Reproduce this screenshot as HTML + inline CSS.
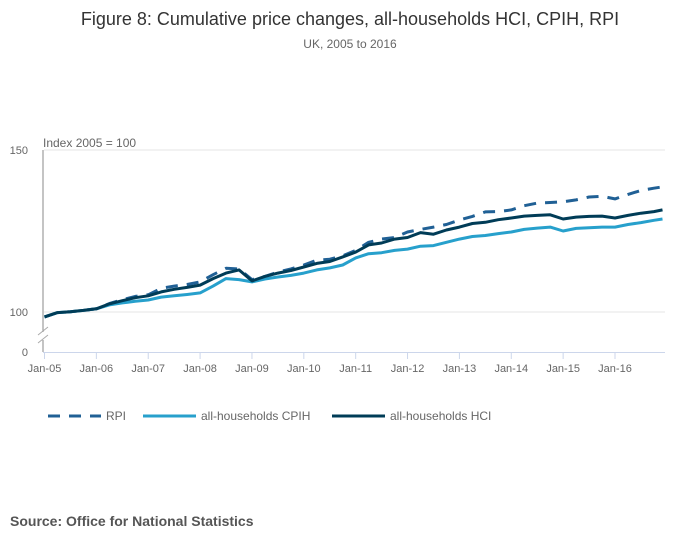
<!DOCTYPE html>
<html><head><meta charset="utf-8"><style>
body{margin:0;background:#fff;font-family:"Liberation Sans",sans-serif;}
svg text{font-family:"Liberation Sans",sans-serif;}
</style></head><body>
<svg id="chart" width="700" height="549" viewBox="0 0 700 549" xmlns="http://www.w3.org/2000/svg">
<text x="350" y="25" text-anchor="middle" font-size="18" fill="#333">Figure 8: Cumulative price changes, all-households HCI, CPIH, RPI</text>
<text x="350" y="48" text-anchor="middle" font-size="12" fill="#666">UK, 2005 to 2016</text>
<text x="43" y="147" font-size="12" fill="#666">Index 2005 = 100</text>
<g id="grid"></g>
<g id="axes"></g>
<g id="series"></g>
<g>
<line x1="48" y1="416" x2="101" y2="416" stroke="#206095" stroke-width="3" stroke-dasharray="12,9"/>
<text x="106" y="420" font-size="12" fill="#666">RPI</text>
<line x1="143" y1="416" x2="196" y2="416" stroke="#27a0cc" stroke-width="3"/>
<text x="201" y="420" font-size="12" fill="#666">all-households CPIH</text>
<line x1="332" y1="416" x2="385" y2="416" stroke="#003c57" stroke-width="3"/>
<text x="390" y="420" font-size="12" fill="#666">all-households HCI</text>
</g>
<text x="10" y="526" font-size="14" font-weight="bold" fill="#555">Source: Office for National Statistics</text>
</svg>
<script>
const monthIdx = [0,3,6,9,12,15,18,21,24,27,30,33,36,39,42,45,48,51,54,57,60,63,66,69,72,75,78,81,84,87,90,93,96,99,102,105,108,111,114,117,120,123,126,129,132,135,138,141,143];
const hciValues = [98.5,99.8,100.1,100.5,101.0,102.5,103.5,104.4,105.0,106.2,107.0,107.6,108.3,110.3,112.0,113.0,109.6,111.0,112.0,112.8,113.9,115.0,115.6,117.0,118.5,120.7,121.3,122.5,123.0,124.5,124.0,125.3,126.2,127.3,127.7,128.5,129.0,129.6,129.8,130.0,128.7,129.3,129.5,129.6,129.0,129.8,130.5,131.0,131.5];
const cpihValues = [98.5,99.8,100.1,100.5,101.0,102.2,102.8,103.3,103.7,104.6,105.0,105.4,105.9,108.0,110.3,110.0,109.3,110.2,110.8,111.3,112.0,113.0,113.6,114.5,116.7,118.0,118.3,119.0,119.4,120.3,120.5,121.5,122.5,123.3,123.6,124.2,124.7,125.5,125.9,126.2,125.0,125.8,126.0,126.2,126.2,127.0,127.6,128.3,128.7];
const rpiValues = [98.5,99.8,100.1,100.5,101.0,102.6,103.8,104.8,105.3,107.3,108.0,108.5,109.3,111.5,113.5,113.3,110.0,111.0,112.3,113.3,114.5,116.0,116.3,117.3,119.0,121.5,122.5,123.0,124.7,125.5,126.2,127.0,128.4,129.5,130.9,131.0,131.5,132.8,133.6,133.8,134.0,134.6,135.5,135.7,134.9,136.3,137.5,138.2,138.6];
const xTickLabels = ["Jan-05","Jan-06","Jan-07","Jan-08","Jan-09","Jan-10","Jan-11","Jan-12","Jan-13","Jan-14","Jan-15","Jan-16"];
const yTickValues = [100,150];

const NS="http://www.w3.org/2000/svg";
function X(m){return 44.5 + m*(570.5/132);}
function Y(v){return 312 - (v-100)*3.24;}
function mk(tag,attrs,parent){const e=document.createElementNS(NS,tag);for(const k in attrs)e.setAttribute(k,attrs[k]);parent.appendChild(e);return e;}
const grid=document.getElementById('grid'),axes=document.getElementById('axes'),series=document.getElementById('series');
yTickValues.forEach(v=>{
  const l=mk('line',{x1:44,x2:665,y1:Y(v),y2:Y(v),stroke:'#e6e6e6','stroke-width':1},grid);
  
  
  const t=mk('text',{x:28,y:Y(v)+4,'font-size':11,fill:'#666','text-anchor':'end'},axes);
  t.textContent=v;
  
  
});
const z=mk('text',{x:28,y:356,'font-size':11,fill:'#666','text-anchor':'end'},axes);
z.textContent='0';


const ya=mk('path',{d:'M43 150 V332 M43 340 V352',stroke:'#888','stroke-width':1,fill:'none'},axes);


const br=mk('path',{d:'M38 335 L48 327 M38 343 L48 335',stroke:'#aaa','stroke-width':1,fill:'none'},axes);


const xa=mk('line',{x1:43,x2:665,y1:352.5,y2:352.5,stroke:'#ccd6eb','stroke-width':1},axes);


xTickLabels.forEach((lab,i)=>{
  const x=X(i*12);
  const tk=mk('line',{x1:x,x2:x,y1:352,y2:359,stroke:'#ccd6eb','stroke-width':1},axes);
  
  
  const t=mk('text',{x:x,y:372,'font-size':11,fill:'#666','text-anchor':'middle'},axes);
  t.textContent=lab;
  
  
});
function drawLine(vals,color,dash,name){
  const d=vals.map((v,i)=>(i?'L':'M')+X(monthIdx[i]).toFixed(1)+' '+Y(v).toFixed(1)).join(' ');
  const p=mk('path',{d:d,stroke:color,'stroke-width':3,fill:'none','stroke-linejoin':'round'},series);
  if(dash)p.setAttribute('stroke-dasharray',dash);
  
  
}
drawLine(rpiValues,'#206095','12,9','rpi-line');
drawLine(cpihValues,'#27a0cc',null,'cpih-line');
drawLine(hciValues,'#003c57',null,'hci-line');
</script>
</body></html>
